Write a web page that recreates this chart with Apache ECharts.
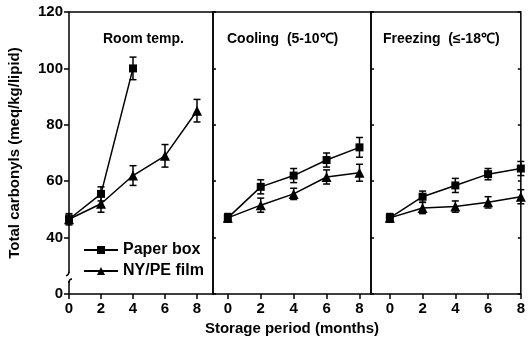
<!DOCTYPE html>
<html>
<head>
<meta charset="utf-8">
<script src="https://cdn.jsdelivr.net/npm/echarts@6/dist/echarts.min.js"></script>
<style>
  html, body { margin: 0; padding: 0; background: #fff; }
  #chart { width: 528px; height: 346px; }
</style>
</head>
<body>
<div id="chart"></div>
<script>
// Storage months on the x axis of every panel
const months = [0, 2, 4, 6, 8];
// y ticks; the lowest one stands for zero on the broken axis
const yTicks = [20, 40, 60, 80, 100, 120];
const panelTitles = ['Room temp.', 'Cooling  (5-10\u2103)', 'Freezing  (\u2264-18\u2103)'];
const seriesNames = ['Paper box', 'NY/PE film'];

// Total carbonyls (meq/kg lipid), mean and error per month
const roomPaper = [46.5, 55.5, 100];
const roomPaperErr = [1.5, 2.5, 4];
const roomFilm = [46.5, 52, 62, 69, 85];
const roomFilmErr = [2, 3, 3.5, 4, 4];

const coolPaper = [47, 58, 62, 67.5, 72];
const coolPaperErr = [1.5, 2.5, 2.5, 2.5, 3.5];
const coolFilm = [47, 51.5, 55.5, 61.5, 63];
const coolFilmErr = [1.5, 2.5, 2, 2.5, 3];

const freezePaper = [47, 54.5, 58.5, 62.5, 64.5];
const freezePaperErr = [1.5, 2, 2.5, 2, 2.5];
const freezeFilm = [47, 50.5, 51, 52.5, 54.5];
const freezeFilmErr = [1.5, 2, 2, 2, 2.5];

const FONT = "'Liberation Sans', Arial, Helvetica, sans-serif";
const INK = '#000';

function lineSeries(idx, name, means, symbol, size) {
  return {
    type: 'line', name: name,
    xAxisIndex: idx, yAxisIndex: idx,
    data: means.map((m, i) => [months[i], m]),
    symbol: symbol, symbolSize: size, showAllSymbol: true,
    clip: false, z: 4, animation: false,
    lineStyle: { color: INK, width: 1.5 },
    itemStyle: { color: INK },
    emphasis: { disabled: true }
  };
}

function errorBars(idx, means, errs) {
  return {
    type: 'custom', xAxisIndex: idx, yAxisIndex: idx,
    z: 3, silent: true, clip: false, animation: false,
    data: means.map((m, i) => [months[i], m - errs[i], m + errs[i]]),
    encode: { x: 0, y: [1, 2] },
    renderItem: function (params, api) {
      const lo = api.coord([api.value(0), api.value(1)]);
      const hi = api.coord([api.value(0), api.value(2)]);
      const w = 3.5;
      const style = { stroke: INK, lineWidth: 1.5 };
      return {
        type: 'group',
        children: [
          { type: 'line', shape: { x1: lo[0], y1: lo[1], x2: hi[0], y2: hi[1] }, style: style },
          { type: 'line', shape: { x1: lo[0] - w, y1: lo[1], x2: lo[0] + w, y2: lo[1] }, style: style },
          { type: 'line', shape: { x1: hi[0] - w, y1: hi[1], x2: hi[0] + w, y2: hi[1] }, style: style }
        ]
      };
    }
  };
}

function xAxisFor(idx, min, max, extra) {
  return Object.assign({
    type: 'value', gridIndex: idx, min: min, max: max, position: 'bottom',
    axisLine: { show: false, onZero: false },
    axisTick: { show: true, length: 5, customValues: months, lineStyle: { color: INK, width: 1.5 } },
    axisLabel: { customValues: months, margin: 7, color: INK, fontSize: 15, fontWeight: 'bold', fontFamily: FONT },
    splitLine: { show: false }
  }, extra || {});
}

function yAxisFor(idx, position, labels, extra) {
  return Object.assign({
    type: 'value', gridIndex: idx, position: position,
    min: yTicks[0], max: yTicks[yTicks.length - 1], interval: 20,
    axisLine: { show: false, onZero: false },
    axisTick: labels
      ? { show: true, length: 5, lineStyle: { color: INK, width: 1.5 } }
      : { show: true, inside: true, length: 3, lineStyle: { color: INK, width: 1.5 } },
    axisLabel: labels
      ? { show: true, margin: 6, color: INK, fontSize: 15, fontWeight: 'bold', fontFamily: FONT,
          formatter: v => (v === yTicks[0] ? '0' : String(v)) }
      : { show: false },
    splitLine: { show: false }
  }, extra || {});
}

const gridStyle = { show: true, borderColor: INK, borderWidth: 1.5, top: 12, height: 282, backgroundColor: 'transparent' };

const option = {
  backgroundColor: '#fff',
  animation: false,
  textStyle: { fontFamily: FONT },
  title: panelTitles.map((t, i) => ({
    text: t, left: [103, 227, 383][i], top: 32, padding: 0,
    textStyle: { fontSize: 14, fontWeight: 'bold', color: INK, fontFamily: FONT }
  })),
  grid: [
    Object.assign({ left: 69, width: 144 }, gridStyle),
    Object.assign({ left: 213, width: 158 }, gridStyle),
    Object.assign({ left: 371, width: 151 }, gridStyle)
  ],
  xAxis: [
    xAxisFor(0, 0, 9),
    xAxisFor(1, -0.9, 8.7, {
      name: 'Storage period (months)', nameLocation: 'middle', nameGap: 26,
      nameTextStyle: { color: INK, fontSize: 15, fontWeight: 'bold', fontFamily: FONT }
    }),
    xAxisFor(2, -1.15, 8)
  ],
  yAxis: [
    yAxisFor(0, 'left', true, {
      name: 'Total carbonyls (meq/kg/lipid)', nameLocation: 'middle', nameGap: 47, nameRotate: 90,
      nameTextStyle: { color: INK, fontSize: 15, fontWeight: 'bold', fontFamily: FONT }
    }),
    yAxisFor(1, 'left', false),
    yAxisFor(2, 'left', false),
    yAxisFor(2, 'right', false)
  ],
  legend: {
    data: seriesNames, orient: 'vertical', left: 83, top: 242, padding: 0,
    itemWidth: 34, itemHeight: 10, itemGap: 5,
    textStyle: { color: INK, fontSize: 16, fontWeight: 'bold', fontFamily: FONT },
    selectedMode: false
  },
  series: [
    errorBars(0, roomPaper, roomPaperErr),
    errorBars(0, roomFilm, roomFilmErr),
    lineSeries(0, seriesNames[0], roomPaper, 'rect', 8),
    lineSeries(0, seriesNames[1], roomFilm, 'triangle', 10),
    errorBars(1, coolPaper, coolPaperErr),
    errorBars(1, coolFilm, coolFilmErr),
    lineSeries(1, seriesNames[0], coolPaper, 'rect', 8),
    lineSeries(1, seriesNames[1], coolFilm, 'triangle', 10),
    errorBars(2, freezePaper, freezePaperErr),
    errorBars(2, freezeFilm, freezeFilmErr),
    lineSeries(2, seriesNames[0], freezePaper, 'rect', 8),
    lineSeries(2, seriesNames[1], freezeFilm, 'triangle', 10)
  ]
};

const chart = echarts.init(document.getElementById('chart'), null, { renderer: 'canvas' });
chart.setOption(option);

// Break marks on the left axis between the zero tick and 40
const axisX = chart.convertToPixel({ xAxisIndex: 0 }, 0);
const yUpper = chart.convertToPixel({ yAxisIndex: 0 }, 27.5);
const yLower = chart.convertToPixel({ yAxisIndex: 0 }, 25);
chart.setOption({
  graphic: [
    { type: 'rect', z: 100, shape: { x: axisX - 5, y: yUpper, width: 10, height: yLower - yUpper + 1 },
      style: { fill: '#fff' } },
    { type: 'bezierCurve', z: 101,
      shape: { x1: axisX, y1: yUpper - 1, cpx1: axisX, cpy1: yUpper + 2, x2: axisX - 3, y2: yUpper + 3 },
      style: { stroke: INK, lineWidth: 1.5, fill: null } },
    { type: 'bezierCurve', z: 101,
      shape: { x1: axisX + 3, y1: yLower - 1, cpx1: axisX, cpy1: yLower - 1, x2: axisX, y2: yLower + 3 },
      style: { stroke: INK, lineWidth: 1.5, fill: null } }
  ]
});
</script>
</body>
</html>
